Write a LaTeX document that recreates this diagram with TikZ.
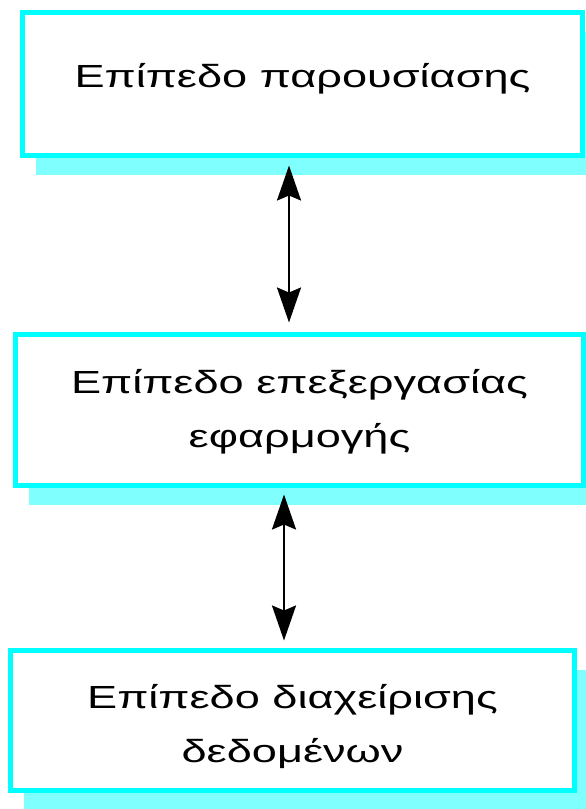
\documentclass[tikz,border=0pt]{standalone}
\usepackage{fontspec}
\setmainfont[FakeStretch=1.41]{Liberation Sans}
\usetikzlibrary{arrows.meta,shadows}
\definecolor{boxcyan}{HTML}{00FFFF}
\definecolor{shadowcyan}{HTML}{80FFFF}
\newcommand\uprule[1]{\rule{0pt}{#1}}
\newcommand\downrule[1]{\rule[-#1]{0pt}{#1}}
\begin{document}
\begin{tikzpicture}[x=1pt,y=-1pt,
  layerbox/.style={draw=boxcyan, line width=5pt, fill=white, inner sep=0pt,
    align=center, font=\fontsize{32}{54}\selectfont,
    drop shadow={shadow xshift=13.5pt, shadow yshift=-19.5pt, fill=shadowcyan, opacity=1}},
  dblarrow/.style={line width=2.3pt, black,
    {Stealth[length=35pt,width=24pt,inset=5pt]}-{Stealth[length=35pt,width=24pt,inset=5pt]}}]
\useasboundingbox (0,0) rectangle (586,809);
\node[layerbox, minimum width=560pt, minimum height=143pt] (b1) at (302.5,84)
  {\uprule{30pt}\downrule{24pt}Επίπεδο παρουσίασης};
\node[layerbox, minimum width=568pt, minimum height=151pt] (b2) at (299.5,410)
  {\uprule{30pt}Επίπεδο επεξεργασίας\\εφαρμογής\downrule{9pt}};
\node[layerbox, minimum width=564pt, minimum height=140pt] (b3) at (292.5,720.5)
  {\uprule{38pt}Επίπεδο διαχείρισης\\δεδομένων\downrule{8pt}};
\coordinate (c1) at (289,0);
\coordinate (c2) at (284,0);
\draw[dblarrow, shorten <=7.5pt, shorten >=9.5pt] (b1.south -| c1) -- (b2.north -| c1);
\draw[dblarrow, shorten <=6.5pt, shorten >=7.5pt] (b2.south -| c2) -- (b3.north -| c2);
\end{tikzpicture}
\end{document}
